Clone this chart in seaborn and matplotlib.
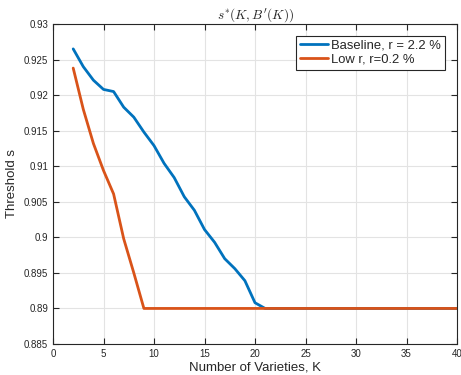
import numpy as np
import pandas as pd
import matplotlib
matplotlib.use("Agg")
import matplotlib.pyplot as plt
import seaborn as sns

# values
k_values = list(range(2, 41))
baseline_head = [0.9265, 0.9240, 0.9221, 0.9208, 0.9205, 0.9183, 0.9169, 0.9148,
                 0.9129, 0.9104, 0.9084, 0.9057, 0.9038, 0.9011, 0.8993, 0.8970,
                 0.8956, 0.8939, 0.8908, 0.8900]
low_r_head = [0.9238, 0.9180, 0.9132, 0.9094, 0.9061, 0.8998, 0.8950, 0.8900]
floor_value = 0.89

baseline = baseline_head + [floor_value] * (len(k_values) - len(baseline_head))
low_r = low_r_head + [floor_value] * (len(k_values) - len(low_r_head))

series_names = ["Baseline, r = 2.2 %", "Low r, r=0.2 %"]
series_colors = ["#0072BD", "#D95319"]

df = pd.DataFrame({
    "K": k_values * 2,
    "s": baseline + low_r,
    "series": [series_names[0]] * len(k_values) + [series_names[1]] * len(k_values),
})

sns.set_style("whitegrid")
plt.rcParams["font.family"] = ["Liberation Sans", "DejaVu Sans"]
plt.rcParams["mathtext.fontset"] = "cm"

fig = plt.figure(figsize=(4.61, 3.75), dpi=100)
ax = fig.add_axes([53 / 461, 1 - 344 / 375, 404 / 461, 320 / 375])

sns.lineplot(data=df, x="K", y="s", hue="series", palette=series_colors,
             linewidth=2.0, ax=ax)

ax.set_xlim(0, 40)
ax.set_ylim(0.885, 0.93)
ax.set_xticks(np.arange(0, 41, 5))
ax.set_yticks(np.arange(0.885, 0.9301, 0.005))
ax.set_yticklabels(["0.885", "0.89", "0.895", "0.9", "0.905", "0.91",
                    "0.915", "0.92", "0.925", "0.93"])
ax.tick_params(direction="in", length=4, width=0.8, labelsize=7,
               colors="#262626", top=True, right=True, bottom=True, left=True)
ax.grid(True, color="#e3e3e3", linewidth=0.8)
for sp in ax.spines.values():
    sp.set_color("#262626")
    sp.set_linewidth(0.8)

ax.set_xlabel("Number of Varieties, K", fontsize=9.5, color="#262626", labelpad=2)
ax.set_ylabel("Threshold s", fontsize=9.5, color="#262626", labelpad=4)
ax.set_title(r"$s^{*}(K,B'(K))$", fontsize=9.5, pad=4)

leg = ax.legend(loc="upper right", fontsize=9.4, frameon=True, fancybox=False,
                edgecolor="#262626", framealpha=1, handlelength=2.1,
                borderpad=0.3, labelspacing=0.15, handletextpad=0.3,
                borderaxespad=0.9)
leg.get_frame().set_linewidth(0.8)
for line in leg.get_lines():
    line.set_linewidth(2.0)

fig.savefig("out.png", dpi=100)
